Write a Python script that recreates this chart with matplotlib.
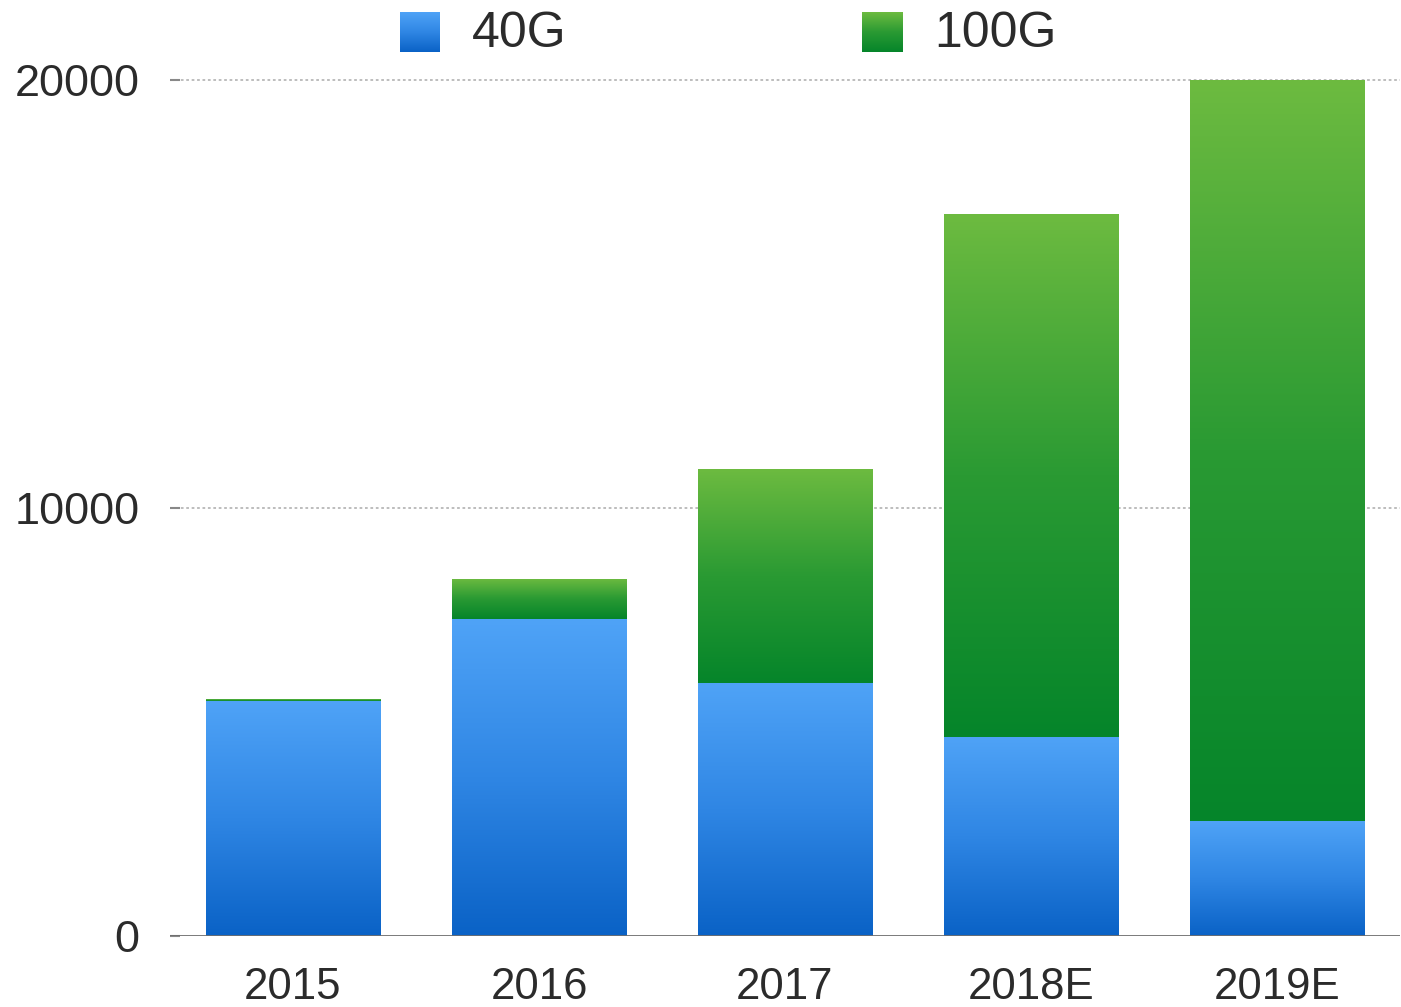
import matplotlib
matplotlib.use("Agg")
from matplotlib import pyplot as plt
from matplotlib.colors import LinearSegmentedColormap
import numpy as np

years = ["2015", "2016", "2017", "2018E", "2019E"]
ports_40g = [5500, 7400, 5900, 4650, 2680]
ports_100g = [35, 950, 5020, 12220, 17320]
series_names = ["40G", "100G"]
y_ticks = [0, 10000, 20000]

plt.rcParams['font.family'] = ['Liberation Sans', 'DejaVu Sans']
text_color = '#2b2b2b'

# vertical gradients, dark at the bottom, light at the top
blue_cmap = LinearSegmentedColormap.from_list('blue_grad', ['#0a62c6', '#2f86e4', '#4fa3f7'])
green_cmap = LinearSegmentedColormap.from_list('green_grad', ['#05852a', '#2a9a33', '#6dbb40'])
grad = np.linspace(0, 1, 256).reshape(-1, 1)


def gradient_bars(ax, x, heights, bottoms, width, cmap):
    bars = ax.bar(x, heights, width, bottom=bottoms, color='none', edgecolor='none')
    for rect in bars:
        x0, y0 = rect.get_x(), rect.get_y()
        w, h = rect.get_width(), rect.get_height()
        if h <= 0:
            continue
        im = ax.imshow(grad, cmap=cmap, origin='lower', aspect='auto',
                       extent=[x0, x0 + w, y0, y0 + h], zorder=2,
                       interpolation='bilinear')
        im.set_clip_path(rect)
    return bars


fig = plt.figure(figsize=(14.01, 10.07), dpi=100)
ax = fig.add_axes([170 / 1401, 71 / 1007, 1230 / 1401, 856 / 1007])

x = np.arange(len(years))
width = 0.71
gradient_bars(ax, x, ports_40g, 0, width, blue_cmap)
gradient_bars(ax, x, ports_100g, ports_40g, width, green_cmap)

ax.set_xlim(-0.5, len(years) - 0.5)
ax.set_ylim(0, 20000)
ax.set_xticks(x)
ax.set_xticklabels(years)
ax.set_yticks(y_ticks)
ax.set_yticklabels([str(v) for v in y_ticks])

for v in y_ticks[1:]:
    ax.axhline(v, color='#b8b8b8', lw=1.3, ls=(0, (1.5, 1.5)), zorder=1, clip_on=False)
ax.axhline(0, color='#6e6e6e', lw=2.0, zorder=3)

for s in ax.spines.values():
    s.set_visible(False)
ax.tick_params(axis='x', length=0, pad=22, labelsize=31.5, labelcolor=text_color)
ax.tick_params(axis='y', length=7, width=1.5, direction='in', color='#888888',
               pad=22, labelsize=32.5, labelcolor=text_color)

# legend across the top
legend_items = [(400, series_names[0], blue_cmap), (862, series_names[1], green_cmap)]
for px, label, cmap in legend_items:
    lax = fig.add_axes([px / 1401, (1007 - 52) / 1007, 40 / 1401, 40 / 1007])
    lax.imshow(grad, cmap=cmap, origin='lower', aspect='auto', extent=[0, 1, 0, 1])
    lax.set_axis_off()
    fig.text((px + 72) / 1401, (1007 - 34) / 1007, label, fontsize=36,
             color=text_color, va='center', ha='left')

fig.savefig('out.png', dpi=100)
